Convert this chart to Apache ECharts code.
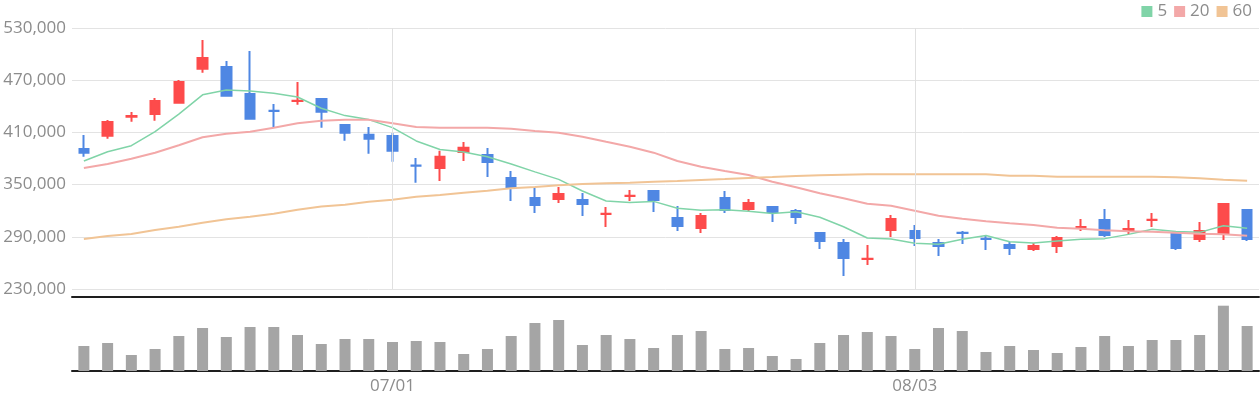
<!DOCTYPE html>
<html>
<head>
<meta charset="utf-8">
<script src="https://cdn.jsdelivr.net/npm/echarts@6/dist/echarts.min.js"></script>
<style>
html,body{margin:0;padding:0;background:#fff;}
#chart{width:1260px;height:400px;}
</style>
</head>
<body>
<div id="chart"></div>
<script>
const dates = ['06/12','06/15','06/16','06/17','06/18','06/19','06/22','06/23','06/24','06/25','06/26','06/29','06/30',
  '07/01','07/02','07/06','07/07','07/08','07/09','07/10','07/13','07/14','07/15','07/16','07/17','07/20','07/21','07/22','07/23','07/24','07/27','07/28','07/29','07/30','07/31',
  '08/03','08/04','08/05','08/06','08/07','08/10','08/11','08/12','08/13','08/14','08/17','08/18','08/19','08/20','08/21'];
const tickDates = ['07/01','08/03'];

const opens  = [391000,406200,428000,431100,444100,483200,485200,454200,434900,446200,448400,418600,407400,405900,371900,369000,387400,384100,357600,334700,333400,332400,316300,337000,342700,311700,300000,334700,321900,324300,319700,294400,282900,264600,297800,296700,282900,294700,287800,280600,275900,279400,300000,309400,297800,309400,294400,287400,293200,320900];
const closes = [386600,422000,428800,446100,468000,495600,452100,425700,434700,446400,433700,409600,402700,388900,371700,382100,392500,375900,347200,326500,339200,327700,316500,337200,332300,302400,314000,320800,328900,318500,312700,285100,265600,264800,310500,288600,279400,294500,287600,277100,279500,288700,301300,292000,299000,309600,277100,296700,327800,287400];
const lows   = [382100,402800,422300,423500,443000,478600,451000,424600,415400,441800,415400,400500,385500,376300,352200,354100,377100,358700,331200,317400,328900,313900,301300,331200,318500,296700,294400,317400,319700,307000,304700,276000,244900,257600,289800,279400,268000,281700,274800,269100,273700,271400,296700,289800,293200,301300,274800,284000,286300,285200];
const highs  = [407000,424300,433400,449500,470200,516200,492100,503600,442600,467900,449500,419700,416200,409300,380600,389000,399000,392100,365600,346100,347200,340300,324300,343800,343800,325400,317400,342600,333500,325400,322000,295500,287500,280600,315100,303600,287500,296700,292100,284000,282900,291000,310500,322000,309300,317400,295500,307000,328900,322000];

const ma5  = [377100,387800,394700,410800,431000,453200,458800,457700,455000,450700,437800,429300,424700,415500,400200,390300,387400,382000,373700,364600,356000,342600,331200,329500,330700,322900,320600,321100,319500,316700,318800,312500,301500,288600,287500,282600,281500,287300,291500,284400,283000,285300,287100,287900,292800,298700,296000,295100,302700,299900];
const ma20 = [369100,373700,379800,386700,395200,404400,408500,410800,415400,420500,423500,424600,424600,420500,416200,415400,415400,415400,414300,411600,409700,405100,399300,393600,386700,377100,370600,365600,361000,353300,346900,340000,334300,328100,325800,320000,314300,310800,307800,305500,303600,300500,299300,297500,296300,295900,294700,293600,292900,291300];
const ma60 = [287500,290900,293200,297800,301600,306200,310100,313100,316600,321200,324700,326900,330400,332700,336100,338000,340700,343000,345700,347200,349200,350700,351500,352200,353300,354100,355300,356400,357600,358700,359900,360700,361400,361800,361800,361800,361800,361800,361800,360300,360300,359100,359100,359100,359100,359100,358400,357200,355600,354500];

const volumes = [250000,280000,160000,220000,350000,430000,340000,440000,440000,360000,270000,320000,320000,290000,300000,290000,170000,220000,350000,480000,510000,260000,360000,320000,230000,360000,400000,220000,230000,150000,120000,280000,360000,390000,350000,220000,430000,400000,190000,250000,210000,180000,240000,350000,250000,310000,310000,360000,653000,450000];

const candleData = opens.map((o, i) => [o, closes[i], lows[i], highs[i]]);
const fmt = v => String(v).replace(/\B(?=(\d{3})+(?!\d))/g, ',');
const showTick = (idx, val) => tickDates.indexOf(val) >= 0;
const FONT = 'Open Sans';
const GRAY = '#8c8c8c';

const chart = echarts.init(document.getElementById('chart'));
chart.setOption({
  animation: false,
  textStyle: { fontFamily: FONT },
  legend: {
    data: ['5', '20', '60'],
    top: -2, right: 3,
    icon: 'rect', itemWidth: 11, itemHeight: 11, itemGap: 7,
    textStyle: { color: GRAY, fontSize: 17, fontFamily: FONT }
  },
  grid: [
    { left: 72, right: 1, top: 28, height: 261 },
    { left: 72, right: 1, top: 297, height: 74 }
  ],
  xAxis: [
    { type: 'category', gridIndex: 0, data: dates, show: false },
    { type: 'category', gridIndex: 1, data: dates,
      axisLine: { lineStyle: { color: '#1e1e1e', width: 2 } },
      axisTick: { alignWithLabel: true, interval: showTick, length: 5, lineStyle: { color: '#1e1e1e', width: 2 } },
      axisLabel: { interval: showTick, color: GRAY, fontSize: 17, fontFamily: FONT, margin: 7 },
      splitLine: { show: false } },
    { type: 'category', gridIndex: 1, data: dates, position: 'top',
      axisLine: { lineStyle: { color: '#1e1e1e', width: 2 } },
      axisTick: { show: false }, axisLabel: { show: false } }
  ],
  yAxis: [
    { type: 'value', gridIndex: 0, min: 230000, max: 530000, interval: 60000,
      axisLine: { show: false }, axisTick: { show: false },
      axisLabel: { color: GRAY, fontSize: 17, fontFamily: FONT, margin: 6, formatter: fmt },
      splitLine: { lineStyle: { color: '#e3e3e3', width: 1 } } },
    { type: 'value', gridIndex: 1, min: 0, max: 740000, show: false, splitLine: { show: false } }
  ],
  series: [
    { name: 'candle', type: 'candlestick', xAxisIndex: 0, yAxisIndex: 0, data: candleData,
      barWidth: 10,
      itemStyle: { color: '#fd4b4b', color0: '#4f87e3', borderColor: '#fd4b4b', borderColor0: '#4f87e3', borderWidth: 2 },
      markLine: { silent: true, symbol: 'none', label: { show: false },
        lineStyle: { color: '#e0e0e0', width: 1, type: 'solid' },
        data: tickDates.map(d => ({ xAxis: d })) } },
    { name: '5', type: 'line', xAxisIndex: 0, yAxisIndex: 0, data: ma5, symbol: 'none', color: '#80d4a8',
      lineStyle: { width: 1.5, color: '#80d4a8' }, z: 3 },
    { name: '20', type: 'line', xAxisIndex: 0, yAxisIndex: 0, data: ma20, symbol: 'none', color: '#f3a8a8',
      lineStyle: { width: 2, color: '#f3a8a8' }, z: 3 },
    { name: '60', type: 'line', xAxisIndex: 0, yAxisIndex: 0, data: ma60, symbol: 'none', color: '#f1c495',
      lineStyle: { width: 2, color: '#f1c495' }, z: 3 },
    { name: 'volume', type: 'bar', xAxisIndex: 1, yAxisIndex: 1, data: volumes, barWidth: 11,
      itemStyle: { color: '#a5a5a5' } }
  ]
});
</script>
</body>
</html>
